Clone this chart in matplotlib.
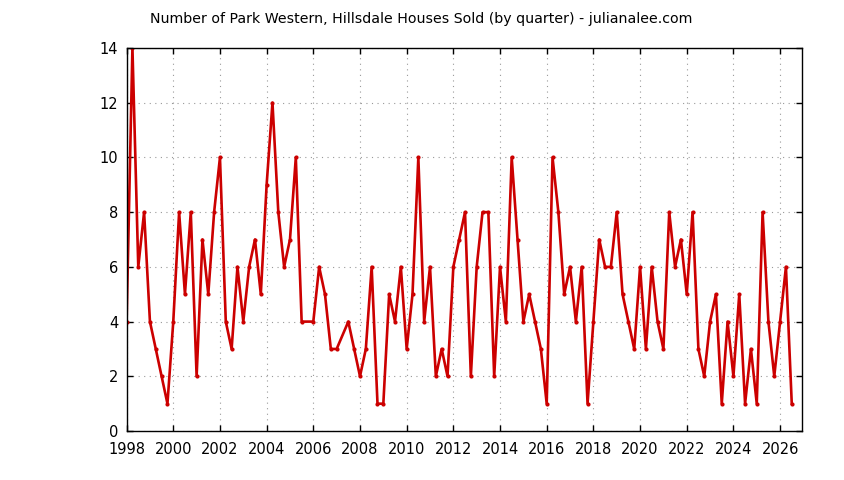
import numpy as np
import matplotlib.pyplot as plt

# quarterly sales, first entry = 1998 Q1; None = quarter missing from the data
start_year = 1998
sold = [
    4, 14, 6, 8,      # 1998
    4, 3, 2, 1,       # 1999
    4, 8, 5, 8,       # 2000
    2, 7, 5, 8,       # 2001
    10, 4, 3, 6,      # 2002
    4, 6, 7, 5,       # 2003
    9, 12, 8, 6,      # 2004
    7, 10, 4, None,   # 2005
    4, 6, 5, 3,       # 2006
    3, None, 4, 3,    # 2007
    2, 3, 6, 1,       # 2008
    1, 5, 4, 6,       # 2009
    3, 5, 10, 4,      # 2010
    6, 2, 3, 2,       # 2011
    6, 7, 8, 2,       # 2012
    6, 8, 8, 2,       # 2013
    6, 4, 10, 7,      # 2014
    4, 5, 4, 3,       # 2015
    1, 10, 8, 5,      # 2016
    6, 4, 6, 1,       # 2017
    4, 7, 6, 6,       # 2018
    8, 5, 4, 3,       # 2019
    6, 3, 6, 4,       # 2020
    3, 8, 6, 7,       # 2021
    5, 8, 3, 2,       # 2022
    4, 5, 1, 4,       # 2023
    2, 5, 1, 3,       # 2024
    1, 8, 4, 2,       # 2025
    4, 6, 1,          # 2026
]

x = [start_year + i / 4 for i, v in enumerate(sold) if v is not None]
y = [v for v in sold if v is not None]

fig = plt.figure(figsize=(8.44, 4.8), dpi=100)
ax = fig.add_axes([0.150, 0.102, 0.800, 0.798])

ax.plot(x, y, color="#cc0000", linewidth=1.9, marker="o", markersize=3,
        markeredgewidth=0)

ax.set_xlim(1998, 2026.93)
ax.set_ylim(0, 14)
ax.set_xticks(np.arange(1998, 2027, 2))
ax.set_yticks(np.arange(0, 15, 2))
ax.tick_params(axis="both", direction="in", top=True, right=True, length=4,
               width=1, labelsize=10.5)
ax.tick_params(axis="x", pad=8)
ax.tick_params(axis="y", pad=6)
ax.grid(True, linestyle=(0, (1, 4)), color="#999999", linewidth=0.8)
for s in ax.spines.values():
    s.set_linewidth(1)

fig.text(0.499, 0.96,
         "Number of Park Western, Hillsdale Houses Sold (by quarter) - julianalee.com",
         ha="center", va="center", fontsize=10.2)

fig.savefig("out.png", dpi=100)
